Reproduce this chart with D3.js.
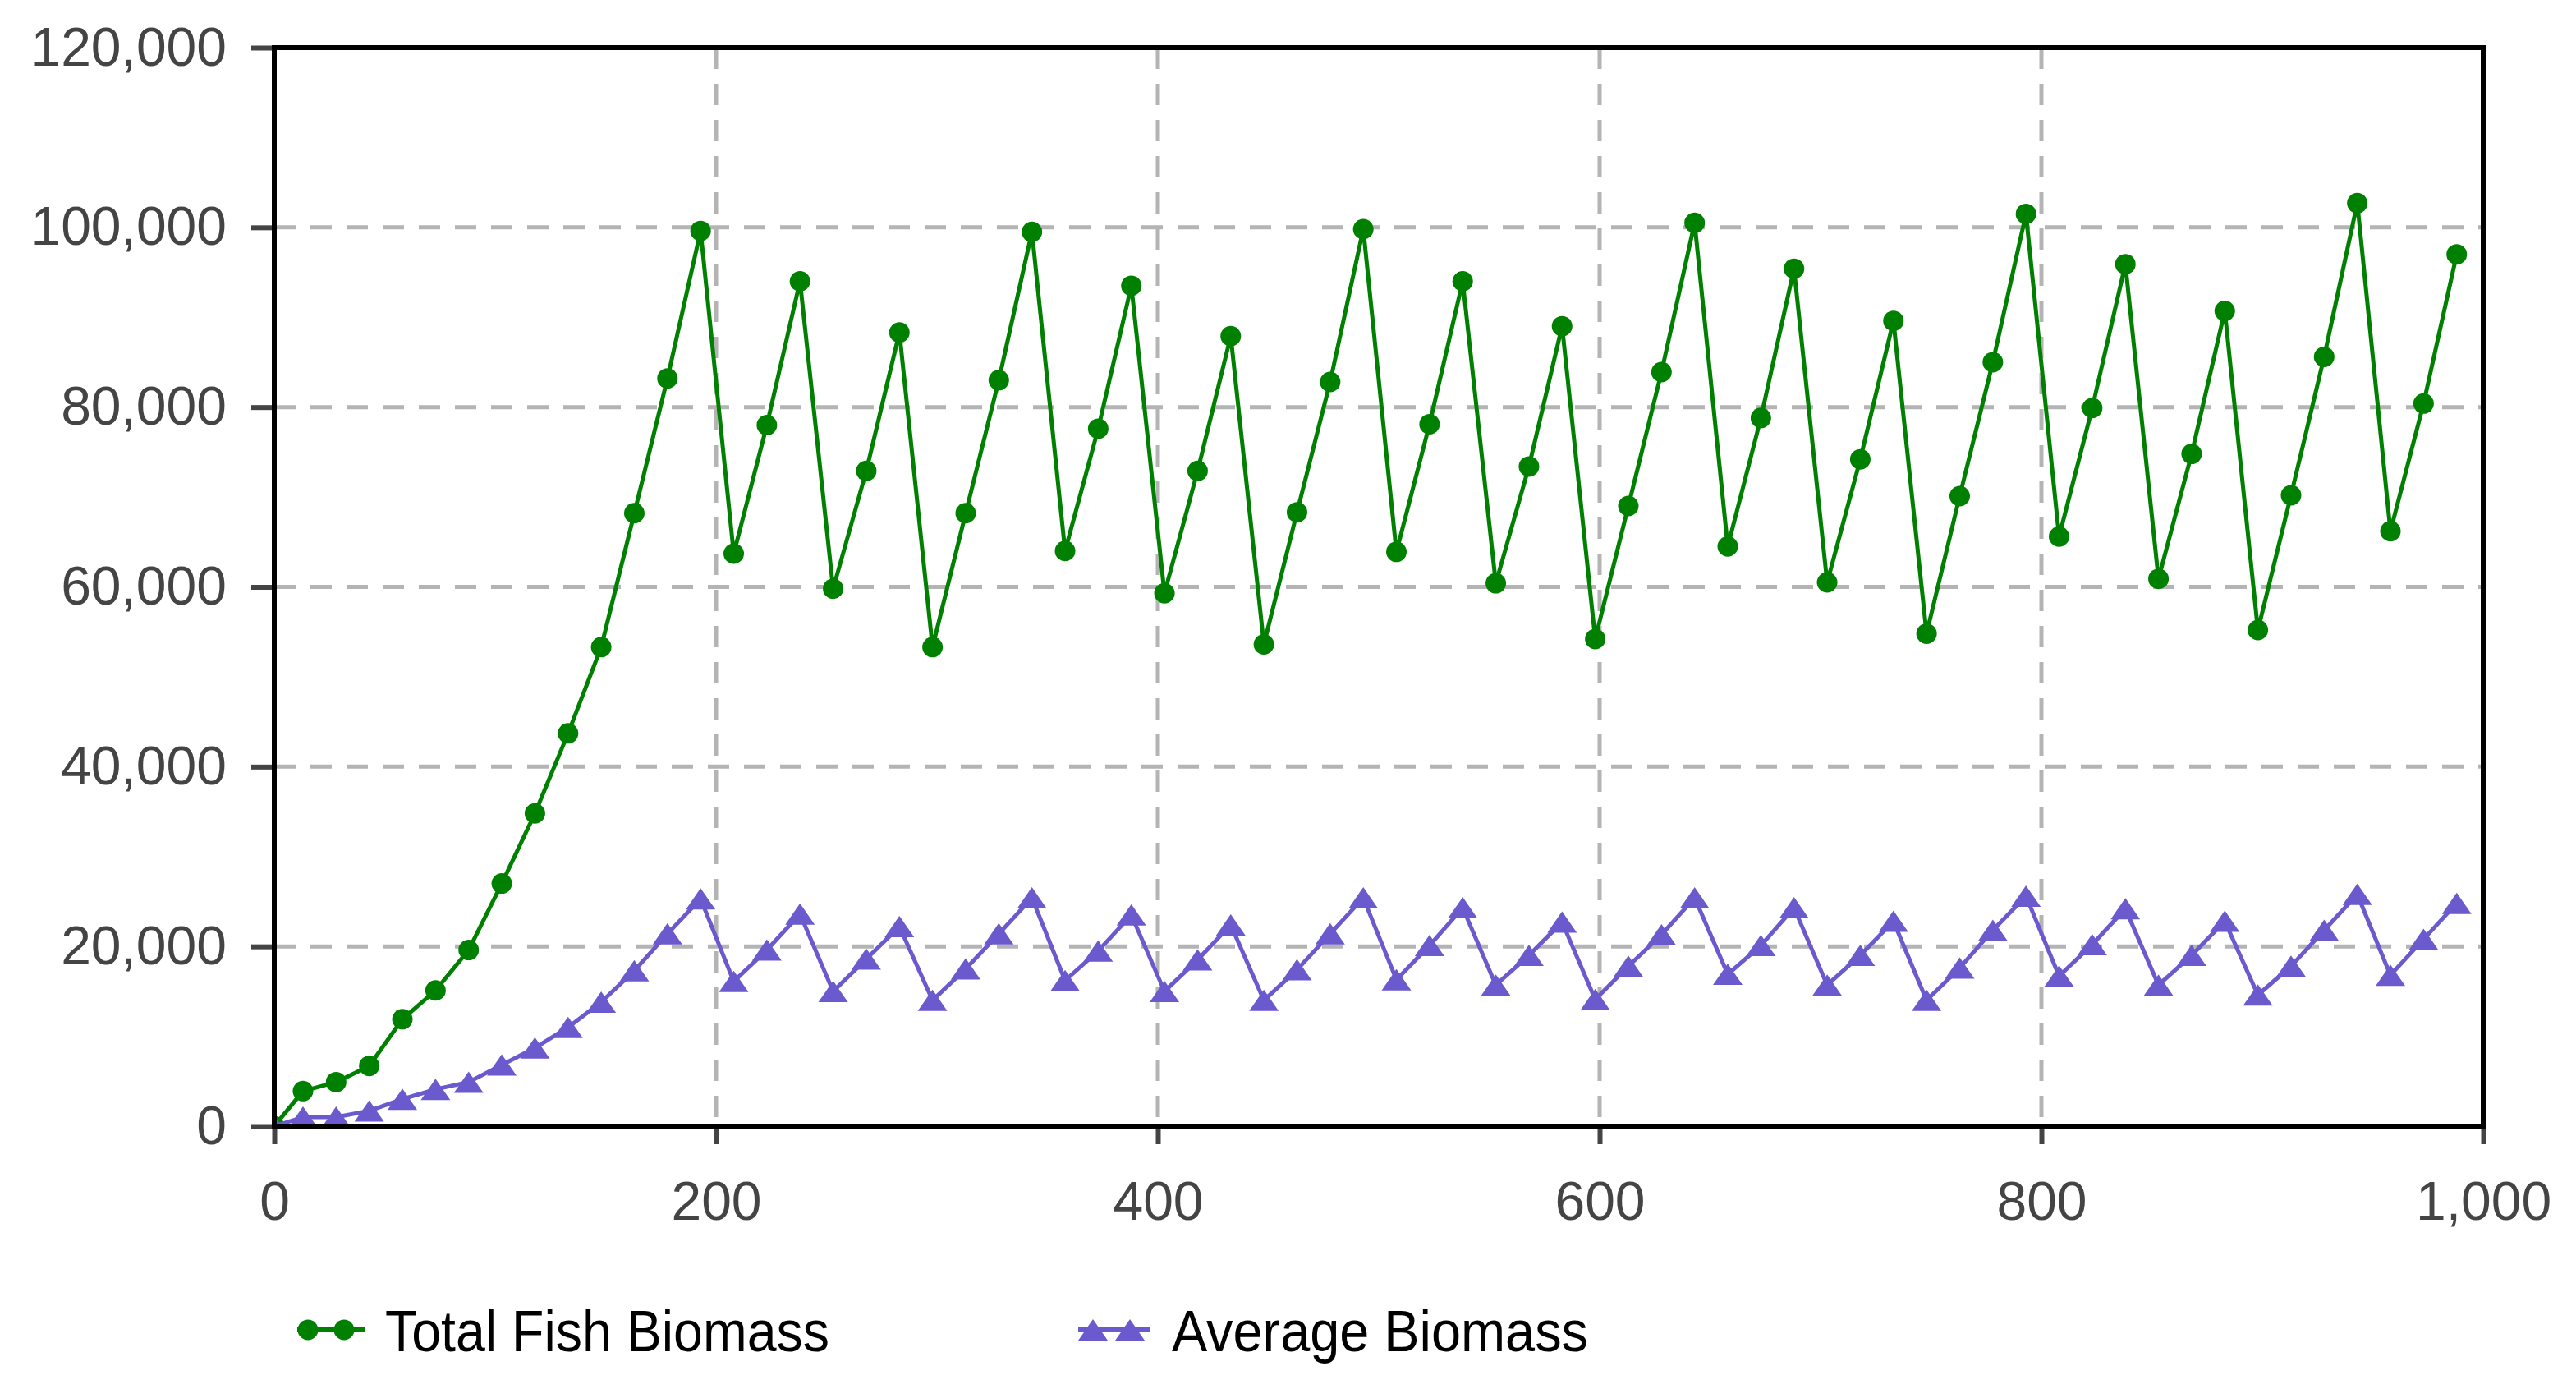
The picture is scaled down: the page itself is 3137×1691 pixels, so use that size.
<!DOCTYPE html>
<html>
<head>
<meta charset="utf-8">
<script src="https://cdn.jsdelivr.net/npm/d3@7"></script>
<style>
  html, body { margin: 0; padding: 0; background: #ffffff; }
  svg { display: block; }
</style>
</head>
<body>
<svg id="chart" width="3137" height="1691"></svg>
<script>
// ---------------- DATA ----------------
const xValues = [0, 13, 28, 43, 58, 73, 88, 103, 118, 133, 148, 163, 178, 193, 208, 223, 238, 253, 268, 283, 298,
  313, 328, 343, 358, 373, 388, 403, 418, 433, 448, 463, 478, 493, 508, 523, 538, 553, 568, 583, 598,
  613, 628, 643, 658, 673, 688, 703, 718, 733, 748, 763, 778, 793, 808, 823, 838, 853, 868, 883, 898,
  913, 928, 943, 958, 973, 988];

const totalFishBiomass = [0, 3900, 4900, 6700, 11900, 15100, 19600, 27000, 34800, 43700, 53300, 68200, 83200, 99600,
  63700, 78000, 94000, 59800, 72900, 88300, 53300, 68200, 83000, 99500,
  64000, 77600, 93500, 59300, 72900, 87900, 53600, 68300, 82800, 99800,
  63900, 78100, 94000, 60400, 73400, 89000, 54200, 69000, 83900, 100500,
  64500, 78800, 95400, 60500, 74200, 89600, 54800, 70100, 85000, 101500,
  65600, 79900, 95900, 60900, 74800, 90700, 55200, 70200, 85600, 102700,
  66200, 80400, 97000];

const averageBiomass = [0, 1000, 1000, 1700, 3000, 4100, 4900, 6800, 8700, 11000, 13800, 17300, 21400, 25300,
  16100, 19600, 23600, 15000, 18600, 22200, 14000, 17500, 21400, 25400,
  16200, 19500, 23500, 15000, 18500, 22400, 14000, 17400, 21400, 25400,
  16300, 20100, 24300, 15700, 19000, 22700, 14100, 17800, 21300, 25400,
  16900, 20100, 24300, 15700, 19000, 22800, 14000, 17600, 21800, 25600,
  16700, 20200, 24200, 15700, 19000, 22800, 14600, 17800, 21800, 25800,
  16800, 20800, 24800];

const xTicks = [0, 200, 400, 600, 800, 1000];
const yTicks = [0, 20000, 40000, 60000, 80000, 100000, 120000];
const seriesNames = ["Total Fish Biomass", "Average Biomass"];
const seriesColors = ["#008000", "#6a5acd"];

// ---------------- LAYOUT ----------------
const plot = { left: 334, right: 3024, top: 58, bottom: 1371 };
const svg = d3.select("#chart");
svg.append("rect").attr("width", 3137).attr("height", 1691).attr("fill", "#ffffff");

const x = d3.scaleLinear().domain([0, 1000]).range([plot.left, plot.right]);
const y = d3.scaleLinear().domain([0, 120000]).range([plot.bottom, plot.top]);

const fontFamily = "'Liberation Sans', Arial, sans-serif";

// gridlines
const grid = svg.append("g").attr("stroke", "#b4b4b4").attr("stroke-width", 5)
  .attr("stroke-dasharray", "26,18");
grid.selectAll("line.gx").data(xTicks.filter(t => t > 0 && t < 1000)).enter().append("line")
  .attr("x1", d => x(d)).attr("x2", d => x(d))
  .attr("y1", plot.top).attr("y2", plot.bottom);
grid.selectAll("line.gy").data(yTicks.filter(t => t > 0 && t < 120000)).enter().append("line")
  .attr("x1", plot.left).attr("x2", plot.right)
  .attr("y1", d => y(d)).attr("y2", d => y(d));

// axes
const yAxis = d3.axisLeft(y).tickValues(yTicks).tickSize(28).tickPadding(30).tickFormat(d3.format(","));
const xAxis = d3.axisBottom(x).tickValues(xTicks).tickSize(22).tickPadding(45).tickFormat(d3.format(","));

const gy = svg.append("g").attr("transform", `translate(${plot.left},0)`).call(yAxis);
const gx = svg.append("g").attr("transform", `translate(0,${plot.bottom})`).call(xAxis);
[gx, gy].forEach(g => {
  g.select(".domain").remove();
  g.selectAll(".tick line").attr("stroke", "#444444").attr("stroke-width", 6);
  g.selectAll(".tick text").attr("fill", "#444444").attr("font-family", fontFamily).attr("font-size", 66);
});

// clip
svg.append("defs").append("clipPath").attr("id", "plotclip").append("rect")
  .attr("x", plot.left).attr("y", plot.top)
  .attr("width", plot.right - plot.left).attr("height", plot.bottom - plot.top);

const dataArea = svg.append("g").attr("clip-path", "url(#plotclip)");

const circleSym = d3.symbol().type(d3.symbolCircle).size(Math.PI * 12.5 * 12.5);
const triPath = "M0,-13L18,13L-18,13Z";

function drawSeries(values, color, marker) {
  const pts = xValues.map((xv, i) => [xv, values[i]]);
  const line = d3.line().x(d => x(d[0])).y(d => y(d[1]));
  dataArea.append("path").datum(pts).attr("d", line)
    .attr("fill", "none").attr("stroke", color).attr("stroke-width", 5).attr("stroke-linejoin", "round");
  dataArea.selectAll(null).data(pts).enter().append("path")
    .attr("transform", d => `translate(${x(d[0])},${y(d[1])})`)
    .attr("d", marker === "circle" ? circleSym() : triPath)
    .attr("fill", color);
}
drawSeries(totalFishBiomass, seriesColors[0], "circle");
drawSeries(averageBiomass, seriesColors[1], "triangle");

// frame
svg.append("rect").attr("x", plot.left).attr("y", plot.top)
  .attr("width", plot.right - plot.left).attr("height", plot.bottom - plot.top)
  .attr("fill", "none").attr("stroke", "#000000").attr("stroke-width", 6);

// legend
const legendItems = [
  { name: seriesNames[0], color: seriesColors[0], marker: "circle", x0: 362, x1: 444, m: [375, 419], tx: 469, tw: 541 },
  { name: seriesNames[1], color: seriesColors[1], marker: "triangle", x0: 1313, x1: 1400, m: [1331, 1376], tx: 1427, tw: 507 }
];
const legendY = 1619;
const lg = svg.append("g");
legendItems.forEach(it => {
  lg.append("line").attr("x1", it.x0).attr("x2", it.x1).attr("y1", legendY).attr("y2", legendY)
    .attr("stroke", it.color).attr("stroke-width", 6);
  it.m.forEach(mx => {
    lg.append("path").attr("transform", `translate(${mx},${legendY})`)
      .attr("d", it.marker === "circle" ? circleSym() : triPath).attr("fill", it.color);
  });
  lg.append("text").attr("x", it.tx).attr("y", 1645)
    .attr("font-family", fontFamily).attr("font-size", 70).attr("fill", "#000000")
    .attr("textLength", it.tw).attr("lengthAdjust", "spacingAndGlyphs")
    .text(it.name);
});
</script>
</body>
</html>
